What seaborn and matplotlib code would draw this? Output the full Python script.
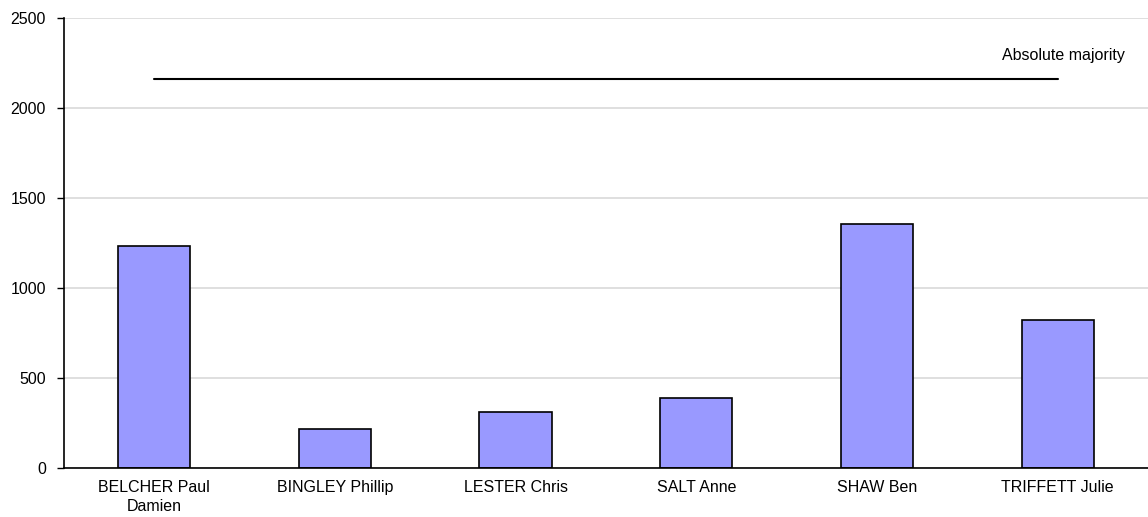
import matplotlib
matplotlib.use("Agg")
import matplotlib.pyplot as plt
import seaborn as sns
import pandas as pd

# Candidate results
candidates = ["BELCHER Paul\nDamien", "BINGLEY Phillip", "LESTER Chris",
              "SALT Anne", "SHAW Ben", "TRIFFETT Julie"]
votes = [1232, 217, 311, 387, 1354, 822]
majority = 2162
y_ticks = [0, 500, 1000, 1500, 2000, 2500]

df = pd.DataFrame({"candidate": candidates, "votes": votes})

sns.set_style("white")
plt.rcParams["font.family"] = ["Liberation Sans", "DejaVu Sans"]
plt.rcParams["text.color"] = "black"
plt.rcParams["xtick.color"] = "black"
plt.rcParams["ytick.color"] = "black"

fig = plt.figure(figsize=(11.48, 5.17), dpi=100)
ax = fig.add_axes([0.0557, 0.0948, 0.9443, 0.8704])

sns.barplot(data=df, x="candidate", y="votes", color="#9999FF",
            edgecolor="black", linewidth=1.2, width=0.4, saturation=1, ax=ax)

# Absolute majority line
ax.plot([0, len(candidates) - 1], [majority, majority], color="black", linewidth=1.5)
ax.text(5.37, majority + 128, "Absolute majority", ha="right", va="center",
        fontsize=11.5, color="black")

ax.set_xlim(-0.5, len(candidates) - 0.5)
ax.set_ylim(0, 2500)
ax.set_yticks(y_ticks)
ax.yaxis.grid(True, color="#d9d9d9", linewidth=1.2)
ax.set_axisbelow(True)

ax.set_xticks(range(len(candidates)))
ax.set_xticklabels(candidates, fontsize=11.5, linespacing=1.3)
ax.set_xticks([i - 0.5 for i in range(len(candidates) + 1)], minor=True)
ax.tick_params(axis="x", which="major", length=0, pad=9, labelcolor="black")
ax.tick_params(axis="x", which="minor", length=5, width=1, direction="out", color="black")
ax.tick_params(axis="y", length=5, width=1, direction="out", color="black",
               labelsize=11.5, pad=8, labelcolor="black")
ax.yaxis.set_ticks_position("left")

for s in ["top", "right"]:
    ax.spines[s].set_visible(False)
for s in ["left", "bottom"]:
    ax.spines[s].set_color("black")
    ax.spines[s].set_linewidth(1.2)

ax.set_xlabel("")
ax.set_ylabel("")

fig.savefig("out.png", dpi=100)
